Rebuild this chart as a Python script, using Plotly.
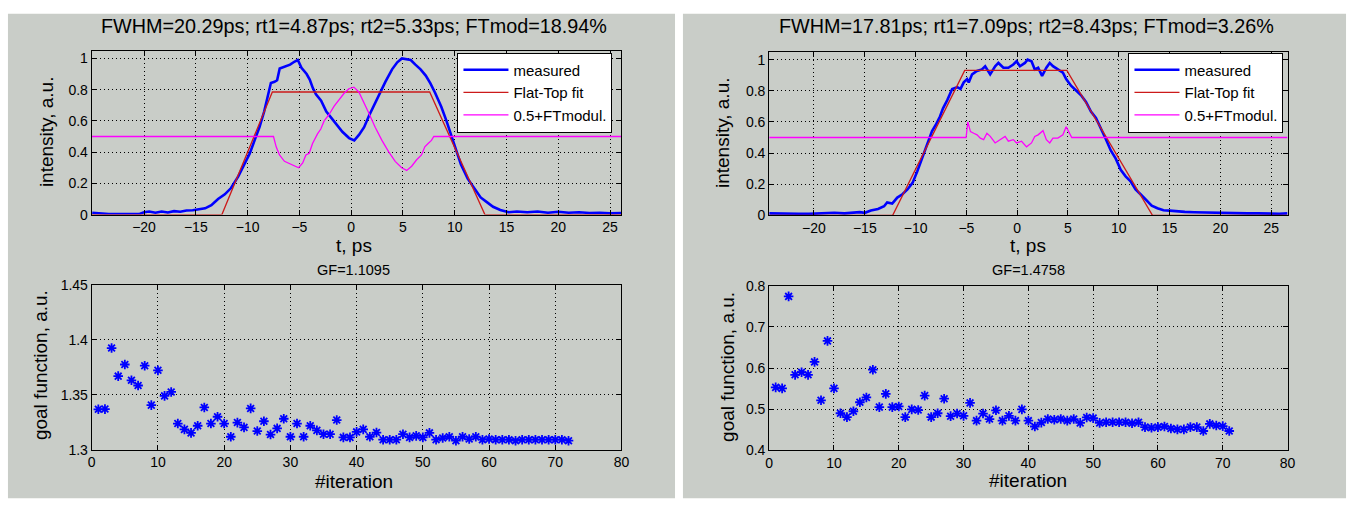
import plotly.graph_objects as go

W, H = 1358, 510

# ---------------- left panel data ----------------
L_title = "FWHM=20.29ps; rt1=4.87ps; rt2=5.33ps; FTmod=18.94%"
L_fwhm, L_rt1, L_rt2, L_amp, L_center = 20.29, 4.87, 5.33, 0.785, 0.1
L_trange = [-25.05, 26.1]

L_t = [-25.0, -24.3, -23.4, -22.4, -21.4, -20.5, -20.0, -19.5, -18.9, -18.3, -17.7, -17.1,
       -16.5, -15.9, -15.3, -14.7, -14.1, -13.5, -12.85, -12.2, -11.6, -10.9, -10.3, -9.8,
       -9.3, -8.85, -8.4, -8.05, -7.75, -7.4, -7.15, -6.9, -6.4, -5.9, -5.45, -5.15, -4.8,
       -4.3, -4.0, -3.7, -3.4, -2.9, -2.4, -1.95, -1.45, -0.85, -0.2, 0.3, 0.75, 1.25, 1.7,
       2.35, 2.85, 3.3, 3.95, 4.45, 4.9, 5.4, 5.75, 6.2, 6.7, 7.2, 7.65, 8.1, 8.7, 9.2, 9.7,
       10.15, 10.6, 11.25, 11.9, 12.5, 13.1, 13.7, 14.4, 15.2, 16.0, 17.0, 18.0, 19.0, 20.0,
       21.0, 22.0, 23.0, 24.0, 25.0, 26.1]
L_meas = [0.012, 0.008, 0.004, 0.003, 0.002, 0.003, 0.015, 0.02, 0.012, 0.02, 0.014, 0.022,
          0.018, 0.026, 0.028, 0.032, 0.04, 0.06, 0.10, 0.13, 0.17, 0.245, 0.32, 0.39,
          0.48, 0.56, 0.66, 0.76, 0.843, 0.85, 0.86, 0.935, 0.95, 0.96, 0.98, 0.99, 0.94,
          0.90, 0.865, 0.81, 0.77, 0.73, 0.66, 0.62, 0.58, 0.53, 0.49, 0.475, 0.51, 0.56, 0.63,
          0.72, 0.78, 0.85, 0.93, 0.975, 1.0, 0.995, 0.99, 0.96, 0.93, 0.89, 0.84, 0.78, 0.69,
          0.60, 0.50, 0.42, 0.32, 0.23, 0.165, 0.11, 0.08, 0.05, 0.03, 0.015, 0.02, 0.015,
          0.02, 0.012, 0.018, 0.012, 0.015, 0.01, 0.012, 0.008, 0.01]

L_mod_t = [-25.05, -7.5, -7.24, -6.92, -6.44, -5.96, -5.48, -5.07, -4.68, -4.37, -4.05, -3.73,
           -3.25, -2.93, -2.61, -2.13, -1.66, -1.18, -0.7, -0.22, 0.26, 0.74, 1.22, 1.7, 2.33,
           2.97, 3.61, 4.25, 4.88, 5.36, 5.84, 6.32, 6.79, 7.11, 7.43, 7.75, 7.98, 26.1]
L_mod = [0.5, 0.5, 0.434, 0.382, 0.341, 0.326, 0.31, 0.30, 0.331, 0.382, 0.393, 0.455,
         0.517, 0.548, 0.6, 0.641, 0.693, 0.734, 0.775, 0.806, 0.816, 0.785, 0.723, 0.651,
         0.558, 0.475, 0.403, 0.341, 0.30, 0.283, 0.31, 0.351, 0.382, 0.434, 0.455, 0.475,
         0.5, 0.5]

L_gf_title = "GF=1.1095"
L_iter = list(range(1, 73))
L_gf = [1.3368, 1.337, 1.3926, 1.367, 1.3776, 1.3632, 1.3585, 1.3765, 1.3406, 1.3723,
        1.349, 1.3526, 1.3238, 1.3185, 1.3153, 1.3218, 1.3385, 1.3238, 1.330, 1.3238,
        1.3118, 1.3247, 1.3203, 1.3376, 1.317, 1.3259, 1.3138, 1.3194, 1.3282, 1.3118,
        1.3238, 1.3118, 1.3218, 1.3176, 1.3141, 1.3141, 1.327, 1.3112, 1.3112, 1.3162,
        1.3185, 1.3118, 1.3156, 1.3091, 1.3091, 1.3091, 1.3141, 1.3112, 1.3126, 1.3112,
        1.3153, 1.3091, 1.3106, 1.3118, 1.3082, 1.3118, 1.3097, 1.3118, 1.3091, 1.3097,
        1.3091, 1.3091, 1.3091, 1.3082, 1.3091, 1.3091, 1.3091, 1.3091, 1.3091, 1.3091,
        1.3091, 1.3082]

# ---------------- right panel data ----------------
R_title = "FWHM=17.81ps; rt1=7.09ps; rt2=8.43ps; FTmod=3.26%"
R_fwhm, R_rt1, R_rt2, R_amp, R_center = 17.81, 7.09, 8.43, 0.931, 0.195
R_trange = [-24.41, 26.61]

R_t = [-24.4, -23.5, -22.5, -21.5, -20.5, -19.5, -18.5, -18.0, -17.0, -16.3, -15.5, -15.0,
       -14.4, -13.7, -13.1, -12.8, -12.3, -11.8, -11.3, -10.8, -10.3, -9.84, -9.36, -8.87,
       -8.38, -8.02, -7.6, -7.3, -6.88, -6.4, -5.9, -5.58, -5.26, -4.93, -4.77, -4.44, -3.96,
       -3.47, -3.15, -2.66, -2.17, -1.85, -1.36, -0.87, -0.38, -0.06, 0.27, 0.76, 1.02, 1.41,
       1.73, 2.06, 2.45, 2.87, 3.2, 3.52, 4.0, 4.5, 4.82, 5.3, 5.8, 6.29, 6.77, 7.26, 7.75,
       8.24, 8.72, 9.21, 9.7, 10.19, 10.67, 11.16, 11.65, 12.14, 12.79, 13.24, 13.8, 14.4,
       15.0, 15.7, 16.5, 17.4, 18.5, 19.5, 20.5, 21.6, 22.7, 23.7, 24.8, 25.8, 26.6]
R_meas = [0.012, 0.01, 0.008, 0.01, 0.009, 0.01, 0.012, 0.016, 0.012, 0.018, 0.02, 0.016,
          0.031, 0.041, 0.058, 0.083, 0.075, 0.114, 0.135, 0.166, 0.208, 0.281, 0.364, 0.458,
          0.541, 0.58, 0.635, 0.687, 0.74, 0.812, 0.823, 0.812, 0.854, 0.875, 0.854, 0.906,
          0.927, 0.937, 0.958, 0.906, 0.958, 0.979, 0.948, 0.948, 0.969, 0.99, 0.958, 0.979,
          1.0, 0.99, 0.937, 0.948, 0.896, 0.948, 0.979, 0.958, 0.937, 0.917, 0.875, 0.833,
          0.802, 0.771, 0.729, 0.667, 0.625, 0.562, 0.49, 0.417, 0.364, 0.292, 0.25, 0.219,
          0.166, 0.135, 0.094, 0.062, 0.045, 0.032, 0.03, 0.025, 0.022, 0.02, 0.018, 0.015,
          0.012, 0.01, 0.012, 0.012, 0.01, 0.01, 0.012]

R_mod_t = [-24.41, -5.03, -4.86, -4.6, -4.28, -3.95, -3.63, -3.3, -2.98, -2.65, -2.17, -1.68,
           -1.19, -0.87, -0.38, -0.06, 0.43, 0.92, 1.41, 1.73, 2.06, 2.54, 2.87, 3.2, 3.52,
           4.0, 4.5, 4.82, 5.15, 5.37, 26.61]
R_mod = [0.5, 0.5, 0.6, 0.538, 0.527, 0.517, 0.496, 0.486, 0.527, 0.507, 0.465, 0.486,
         0.507, 0.476, 0.486, 0.465, 0.476, 0.44, 0.465, 0.507, 0.517, 0.544, 0.486, 0.465,
         0.496, 0.496, 0.517, 0.569, 0.527, 0.5, 0.5]

R_gf_title = "GF=1.4758"
R_iter = list(range(1, 72))
R_gf = [0.553, 0.5506, 0.774, 0.5835, 0.5898, 0.5835, 0.6149, 0.5216, 0.6659, 0.5506,
        0.4902, 0.4808, 0.495, 0.5169, 0.5286, 0.596, 0.5051, 0.5373, 0.5051, 0.5067,
        0.4808, 0.4996, 0.498, 0.533, 0.4808, 0.4902, 0.5255, 0.4831, 0.4894, 0.4839,
        0.5153, 0.4722, 0.4894, 0.4761, 0.4973, 0.4722, 0.4839, 0.4722, 0.4996, 0.4722,
        0.458, 0.4675, 0.4761, 0.4745, 0.4761, 0.4722, 0.4761, 0.4667, 0.48, 0.4784,
        0.4667, 0.4682, 0.4682, 0.4682, 0.4682, 0.4659, 0.4682, 0.4565, 0.4549, 0.4565,
        0.458, 0.4533, 0.451, 0.451, 0.4565, 0.4565, 0.4471, 0.4643, 0.4604, 0.4588, 0.4471]

LEGEND_NAMES = ["measured", "Flat-Top fit", "0.5+FTmodul."]

# ---------------- styling ----------------
FONT = "Liberation Sans, Arial, Helvetica, sans-serif"
PANEL_GRAY = "#c9cdc8"
BLUE = "#0000ff"
RED = "#cc1a1a"
MAGENTA = "#ff00ff"


def px_x(x):
    return x / W


def px_y(y):
    return 1 - y / H


def flat_top(t_range, center, fwhm, rt1, rt2, amp):
    """Trapezoid corner points from the fitted FWHM and rise times."""
    left_half = center - fwhm / 2
    right_half = center + fwhm / 2
    xs = [t_range[0], left_half - rt1 / 2, left_half + rt1 / 2,
          right_half - rt2 / 2, right_half + rt2 / 2, t_range[1]]
    ys = [0, 0, amp, amp, 0, 0]
    return xs, ys


fig = go.Figure()

panels = [
    dict(t=L_t, meas=L_meas, mod_t=L_mod_t, mod=L_mod,
         fit=flat_top(L_trange, L_center, L_fwhm, L_rt1, L_rt2, L_amp),
         iters=L_iter, gf=L_gf, xa="x", ya="y", xb="x3", yb="y3", legend="legend"),
    dict(t=R_t, meas=R_meas, mod_t=R_mod_t, mod=R_mod,
         fit=flat_top(R_trange, R_center, R_fwhm, R_rt1, R_rt2, R_amp),
         iters=R_iter, gf=R_gf, xa="x2", ya="y2", xb="x4", yb="y4", legend="legend2"),
]

for p in panels:
    fig.add_trace(go.Scatter(x=p["t"], y=p["meas"], mode="lines", name=LEGEND_NAMES[0],
                             line=dict(color=BLUE, width=2.6), xaxis=p["xa"], yaxis=p["ya"],
                             legend=p["legend"]))
    fig.add_trace(go.Scatter(x=p["fit"][0], y=p["fit"][1], mode="lines", name=LEGEND_NAMES[1],
                             line=dict(color=RED, width=1.3), xaxis=p["xa"], yaxis=p["ya"],
                             legend=p["legend"]))
    fig.add_trace(go.Scatter(x=p["mod_t"], y=p["mod"], mode="lines", name=LEGEND_NAMES[2],
                             line=dict(color=MAGENTA, width=1.3), xaxis=p["xa"], yaxis=p["ya"],
                             legend=p["legend"]))
    fig.add_trace(go.Scatter(x=p["iters"], y=p["gf"], mode="markers", showlegend=False,
                             marker=dict(symbol="asterisk-open", size=8, color=BLUE,
                                         line=dict(color=BLUE, width=1.8)),
                             xaxis=p["xb"], yaxis=p["yb"]))

axis_common = dict(showline=True, linecolor="black", linewidth=1, mirror="ticks",
                   ticks="inside", ticklen=5, tickcolor="black", tickwidth=1,
                   showgrid=True, gridcolor="black", gridwidth=1, griddash="1px,3px",
                   zeroline=False, tickfont=dict(family=FONT, size=14, color="black"),
                   fixedrange=True)

t_ticks = list(range(-20, 30, 5))
int_ticks = [0, 0.2, 0.4, 0.6, 0.8, 1.0]
int_text = ["0", "0.2", "0.4", "0.6", "0.8", "1"]
it_ticks = list(range(0, 90, 10))

legend_common = dict(xanchor="left", yanchor="top", bgcolor="white", bordercolor="black",
                     borderwidth=1, font=dict(family=FONT, size=15, color="black"),
                     itemwidth=45, tracegroupgap=0)

fig.update_layout(
    width=W, height=H, autosize=False,
    margin=dict(l=0, r=0, t=0, b=0),
    paper_bgcolor="white", plot_bgcolor="white",
    font=dict(family=FONT, color="black"),
    xaxis=dict(axis_common, domain=[px_x(88.5), px_x(623)], range=L_trange,
               tickvals=t_ticks, anchor="y"),
    yaxis=dict(axis_common, domain=[px_y(213.3), px_y(44.3)], range=[0, 1.048],
               tickvals=int_ticks, ticktext=int_text, anchor="x"),
    xaxis2=dict(axis_common, domain=[px_x(772), px_x(1295)], range=R_trange,
                tickvals=t_ticks, anchor="y2"),
    yaxis2=dict(axis_common, domain=[px_y(214), px_y(45)], range=[0, 1.052],
                tickvals=int_ticks, ticktext=int_text, anchor="x2"),
    xaxis3=dict(axis_common, domain=[px_x(88.5), px_x(623)], range=[0, 80],
                tickvals=it_ticks, anchor="y3"),
    yaxis3=dict(axis_common, domain=[px_y(456), px_y(286)], range=[1.3, 1.45],
                tickvals=[1.3, 1.35, 1.4, 1.45], ticktext=["1.3", "1.35", "1.4", "1.45"],
                anchor="x3"),
    xaxis4=dict(axis_common, domain=[px_x(772), px_x(1295)], range=[0, 80],
                tickvals=it_ticks, anchor="y4"),
    yaxis4=dict(axis_common, domain=[px_y(456.7), px_y(286.7)], range=[0.4, 0.8],
                tickvals=[0.4, 0.5, 0.6, 0.7, 0.8], ticktext=["0.4", "0.5", "0.6", "0.7", "0.8"],
                anchor="x4"),
    legend=dict(legend_common, x=px_x(457.5), y=px_y(46)),
    legend2=dict(legend_common, x=px_x(1134.5), y=px_y(46)),
    showlegend=True,
)

# gray figure panels behind each pair of axes
for x0, x1 in [(4, 677), (685, 1354)]:
    fig.add_shape(type="rect", xref="paper", yref="paper", layer="below",
                  x0=px_x(x0), x1=px_x(x1), y0=px_y(506), y1=px_y(6),
                  fillcolor=PANEL_GRAY, line=dict(width=0))


def label(text, x, y, size, angle=0):
    fig.add_annotation(text=text, x=px_x(x), y=px_y(y), xref="paper", yref="paper",
                       xanchor="center", yanchor="middle", showarrow=False,
                       textangle=angle, font=dict(family=FONT, size=size, color="black"))


# panel titles and axis labels
label(L_title, 353, 19, 19.8)
label(R_title, 1032, 19, 19.8)
label("t, ps", 353.5, 245, 19)
label("t, ps", 1033, 245, 19)
label("intensity, a.u.", 43.5, 128, 19, -90)
label("intensity, a.u.", 725.5, 129, 19, -90)
label(L_gf_title, 352.5, 270, 14.5)
label(R_gf_title, 1033.5, 270, 14.5)
label("#iteration", 353, 489, 19)
label("#iteration", 1033, 488, 19)
label("goal function, a.u.", 37, 369, 19, -90)
label("goal function, a.u.", 730, 371, 19, -90)

fig.write_html("out.html")
